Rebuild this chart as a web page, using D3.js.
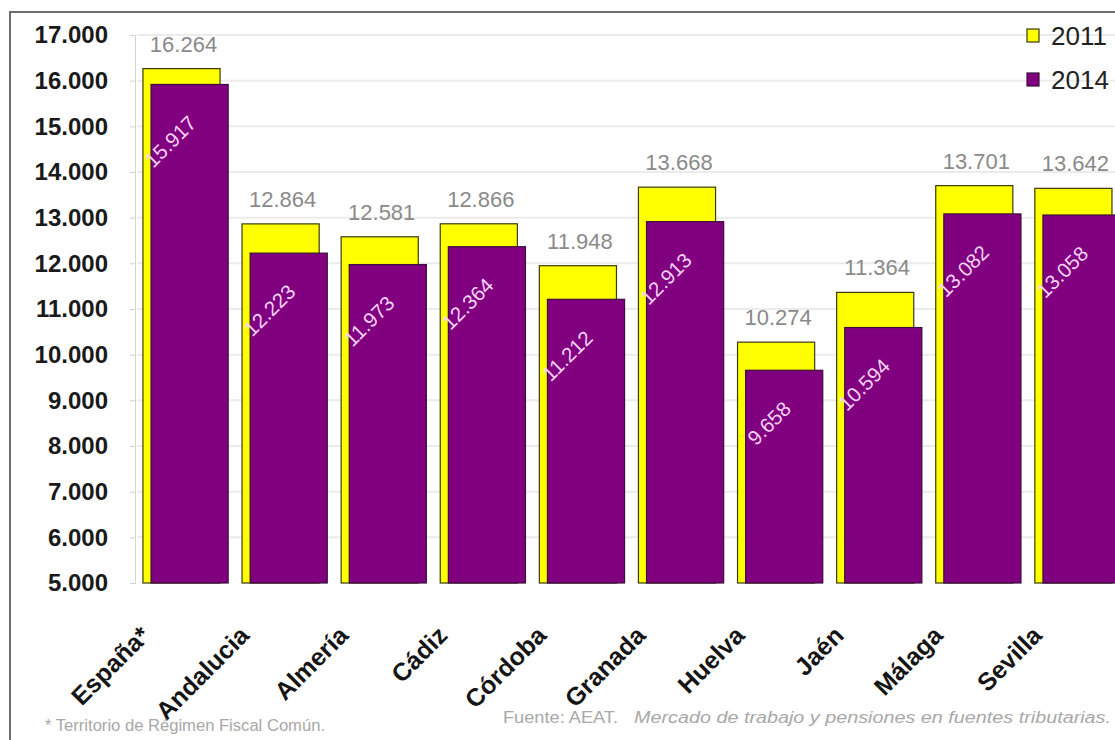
<!DOCTYPE html>
<html>
<head>
<meta charset="utf-8">
<script src="https://cdn.jsdelivr.net/npm/d3@7"></script>
<style>
  html, body { margin: 0; padding: 0; background: #fff; }
  svg { display: block; font-family: "Liberation Sans", Arial, sans-serif; }
</style>
</head>
<body>
<svg id="chart" width="1115" height="740"></svg>
<script>
// ---- data ----
const categories = ["España*", "Andalucia", "Almería", "Cádiz", "Córdoba", "Granada", "Huelva", "Jaén", "Málaga", "Sevilla"];
const seriesNames = ["2011", "2014"];
const values2011 = [16264, 12864, 12581, 12866, 11948, 13668, 10274, 11364, 13701, 13642];
const values2014 = [15917, 12223, 11973, 12364, 11212, 12913, 9658, 10594, 13082, 13058];
const yTicks = [5000, 6000, 7000, 8000, 9000, 10000, 11000, 12000, 13000, 14000, 15000, 16000, 17000];
const footnoteLeft = "* Territorio de Régimen Fiscal Común.";
const sourceLead = "Fuente: AEAT.";
const sourceItalic = "Mercado de trabajo y pensiones en fuentes tributarias.";

// ---- setup ----
const svg = d3.select("#chart");
const loc = d3.formatLocale({ decimal: ",", thousands: ".", grouping: [3], currency: ["", ""] });
const fmt = loc.format(",d");

const x = d3.scaleBand().domain(categories).range([136, 1127]).paddingInner(0.14).paddingOuter(0.07);
const y = d3.scaleLinear().domain([5000, 17000]).range([583, 35]);
const bw = x.bandwidth();
const barW = bw * 0.905;
const off = bw - barW;

// frame
svg.append("rect").attr("x", 10).attr("y", 12).attr("width", 1300).attr("height", 900)
  .attr("fill", "#fff").attr("stroke", "#6e6e6e").attr("stroke-width", 2);

// gridlines
svg.append("g").selectAll("line").data(yTicks.slice(1)).join("line")
  .attr("x1", 137).attr("x2", 1115)
  .attr("y1", d => y(d)).attr("y2", d => y(d))
  .attr("stroke", "#ebebeb").attr("stroke-width", 2);

// y axis
const yAxis = svg.append("g").attr("transform", "translate(135,0)")
  .call(d3.axisLeft(y).tickValues(yTicks).tickFormat(fmt).tickSize(5).tickPadding(22));
yAxis.select(".domain").attr("stroke", "#d4d4d4");
yAxis.selectAll(".tick line").attr("stroke", "#cfcfcf");
yAxis.selectAll(".tick text")
  .attr("font-size", 24).attr("font-weight", "bold").attr("fill", "#1a1a1a")
  .attr("font-family", "'Liberation Sans', Arial, sans-serif");

// bars 2011
const g = svg.append("g");
g.selectAll("rect.y2011").data(categories).join("rect")
  .attr("class", "y2011")
  .attr("x", d => x(d)).attr("width", barW)
  .attr("y", (d, i) => y(values2011[i])).attr("height", (d, i) => y(5000) - y(values2011[i]))
  .attr("fill", "#ffff00").attr("stroke", "#3a3a10").attr("stroke-width", 1.2);

// bars 2014
g.selectAll("rect.y2014").data(categories).join("rect")
  .attr("class", "y2014")
  .attr("x", d => x(d) + off).attr("width", barW)
  .attr("y", (d, i) => y(values2014[i])).attr("height", (d, i) => y(5000) - y(values2014[i]))
  .attr("fill", "#800080").attr("stroke", "#3a0f3a").attr("stroke-width", 1.2);

// value labels 2011
svg.append("g").selectAll("text").data(categories).join("text")
  .attr("x", d => x(d) + barW / 2 + 2)
  .attr("y", (d, i) => y(values2011[i]) - 17)
  .attr("text-anchor", "middle")
  .attr("font-size", 22).attr("fill", "#8a8a8a")
  .text((d, i) => fmt(values2011[i]));

// value labels 2014 (rotated inside purple bars)
svg.append("g").selectAll("text").data(categories).join("text")
  .attr("transform", (d, i) => `translate(${x(d) + off + barW / 2 + 8},${y(values2014[i]) + 40}) rotate(-45)`)
  .attr("text-anchor", "end")
  .attr("font-size", 20.5).attr("fill", "#f6d2f6")
  .text((d, i) => fmt(values2014[i]));

// category labels
svg.append("g").selectAll("text").data(categories).join("text")
  .attr("transform", d => `translate(${x(d) + bw / 2 - 34},637) rotate(-45)`)
  .attr("text-anchor", "end")
  .attr("font-size", 25).attr("font-weight", "bold").attr("fill", "#151515")
  .text(d => d);

// legend
const leg = svg.append("g");
const legColors = ["#ffff00", "#800080"];
const legY = [35.5, 79.5];
seriesNames.forEach((s, i) => {
  leg.append("rect").attr("x", 1027).attr("y", legY[i] - 6.5).attr("width", 12).attr("height", 13)
    .attr("fill", legColors[i]).attr("stroke", i === 0 ? "#3a3a10" : "#3a0f3a").attr("stroke-width", 1.2);
  leg.append("text").attr("x", 1051).attr("y", legY[i] + 9.5)
    .attr("font-size", 26).attr("fill", "#222").text(s);
});

// footnotes
svg.append("text").attr("x", 45).attr("y", 731)
  .attr("font-size", 16).attr("fill", "#a8a8a8")
  .attr("textLength", 280).attr("lengthAdjust", "spacingAndGlyphs")
  .text(footnoteLeft);
svg.append("text").attr("x", 503).attr("y", 723)
  .attr("font-size", 16).attr("fill", "#a8a8a8")
  .attr("textLength", 115).attr("lengthAdjust", "spacingAndGlyphs")
  .text(sourceLead);
svg.append("text").attr("x", 634).attr("y", 723)
  .attr("font-size", 16).attr("font-style", "italic").attr("fill", "#a8a8a8")
  .attr("textLength", 477).attr("lengthAdjust", "spacingAndGlyphs")
  .text(sourceItalic);
</script>
</body>
</html>
